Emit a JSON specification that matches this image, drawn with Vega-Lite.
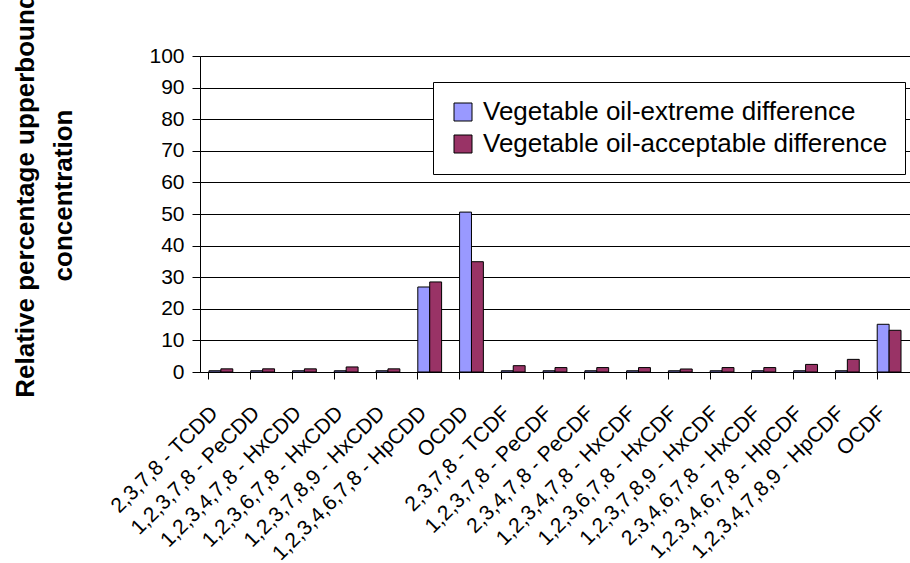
{
  "$schema": "https://vega.github.io/schema/vega-lite/v6.json",
  "autosize": "none",
  "width": 710,
  "height": 316,
  "padding": {"left": 200, "top": 56, "right": 0, "bottom": 191},
  "background": "white",
  "config": {
    "view": {"stroke": null},
    "font": "Liberation Sans"
  },
  "data": {
    "values": [
      {"compound": "2,3,7,8 - TCDD", "series": "Vegetable oil-extreme difference", "value": 0.4},
      {"compound": "2,3,7,8 - TCDD", "series": "Vegetable oil-acceptable difference", "value": 1.0},
      {"compound": "1,2,3,7,8 - PeCDD", "series": "Vegetable oil-extreme difference", "value": 0.4},
      {"compound": "1,2,3,7,8 - PeCDD", "series": "Vegetable oil-acceptable difference", "value": 1.0},
      {"compound": "1,2,3,4,7,8 - HxCDD", "series": "Vegetable oil-extreme difference", "value": 0.4},
      {"compound": "1,2,3,4,7,8 - HxCDD", "series": "Vegetable oil-acceptable difference", "value": 1.0},
      {"compound": "1,2,3,6,7,8 - HxCDD", "series": "Vegetable oil-extreme difference", "value": 0.4},
      {"compound": "1,2,3,6,7,8 - HxCDD", "series": "Vegetable oil-acceptable difference", "value": 1.6},
      {"compound": "1,2,3,7,8,9 - HxCDD", "series": "Vegetable oil-extreme difference", "value": 0.4},
      {"compound": "1,2,3,7,8,9 - HxCDD", "series": "Vegetable oil-acceptable difference", "value": 1.0},
      {"compound": "1,2,3,4,6,7,8 - HpCDD", "series": "Vegetable oil-extreme difference", "value": 26.9},
      {"compound": "1,2,3,4,6,7,8 - HpCDD", "series": "Vegetable oil-acceptable difference", "value": 28.5},
      {"compound": "OCDD", "series": "Vegetable oil-extreme difference", "value": 50.6},
      {"compound": "OCDD", "series": "Vegetable oil-acceptable difference", "value": 34.9},
      {"compound": "2,3,7,8 - TCDF", "series": "Vegetable oil-extreme difference", "value": 0.4},
      {"compound": "2,3,7,8 - TCDF", "series": "Vegetable oil-acceptable difference", "value": 2.0},
      {"compound": "1,2,3,7,8 - PeCDF", "series": "Vegetable oil-extreme difference", "value": 0.4},
      {"compound": "1,2,3,7,8 - PeCDF", "series": "Vegetable oil-acceptable difference", "value": 1.4},
      {"compound": "2,3,4,7,8 - PeCDF", "series": "Vegetable oil-extreme difference", "value": 0.4},
      {"compound": "2,3,4,7,8 - PeCDF", "series": "Vegetable oil-acceptable difference", "value": 1.4},
      {"compound": "1,2,3,4,7,8 - HxCDF", "series": "Vegetable oil-extreme difference", "value": 0.4},
      {"compound": "1,2,3,4,7,8 - HxCDF", "series": "Vegetable oil-acceptable difference", "value": 1.4},
      {"compound": "1,2,3,6,7,8 - HxCDF", "series": "Vegetable oil-extreme difference", "value": 0.4},
      {"compound": "1,2,3,6,7,8 - HxCDF", "series": "Vegetable oil-acceptable difference", "value": 0.95},
      {"compound": "1,2,3,7,8,9 - HxCDF", "series": "Vegetable oil-extreme difference", "value": 0.4},
      {"compound": "1,2,3,7,8,9 - HxCDF", "series": "Vegetable oil-acceptable difference", "value": 1.4},
      {"compound": "2,3,4,6,7,8 - HxCDF", "series": "Vegetable oil-extreme difference", "value": 0.4},
      {"compound": "2,3,4,6,7,8 - HxCDF", "series": "Vegetable oil-acceptable difference", "value": 1.4},
      {"compound": "1,2,3,4,6,7,8 - HpCDF", "series": "Vegetable oil-extreme difference", "value": 0.4},
      {"compound": "1,2,3,4,6,7,8 - HpCDF", "series": "Vegetable oil-acceptable difference", "value": 2.4},
      {"compound": "1,2,3,4,7,8,9 - HpCDF", "series": "Vegetable oil-extreme difference", "value": 0.4},
      {"compound": "1,2,3,4,7,8,9 - HpCDF", "series": "Vegetable oil-acceptable difference", "value": 4.0},
      {"compound": "OCDF", "series": "Vegetable oil-extreme difference", "value": 15.1},
      {"compound": "OCDF", "series": "Vegetable oil-acceptable difference", "value": 13.2}
    ]
  },
  "mark": {"type": "bar", "stroke": "black", "strokeWidth": 1},
  "encoding": {
    "x": {
      "field": "compound",
      "type": "nominal",
      "sort": null,
      "scale": {"paddingInner": 0.43, "paddingOuter": 0.215},
      "axis": {
        "title": null,
        "labelAngle": -45,
        "labelAlign": "right",
        "labelBaseline": "top",
        "labelFontSize": 21,
        "labelColor": "black",
        "labelPadding": 23,
        "labelOffset": -14,
        "labelLimit": 0,
        "bandPosition": 0,
        "tickSize": 7,
        "tickColor": "black",
        "domainColor": "black",
        "grid": false
      }
    },
    "xOffset": {
      "field": "series",
      "type": "nominal",
      "sort": ["Vegetable oil-extreme difference", "Vegetable oil-acceptable difference"]
    },
    "y": {
      "field": "value",
      "type": "quantitative",
      "scale": {"domain": [0, 100], "nice": false},
      "axis": {
        "title": ["Relative percentage upperbound", "concentration"],
        "titleFontSize": 26,
        "titleFontWeight": "bold",
        "titleColor": "black",
        "titleAngle": -90,
        "titleAlign": "center",
        "titleBaseline": "alphabetic",
        "titleLineHeight": 38,
        "titleX": -167,
        "titleY": 139,
        "values": [0, 10, 20, 30, 40, 50, 60, 70, 80, 90, 100],
        "labelFontSize": 21,
        "labelColor": "black",
        "labelPadding": 8,
        "tickSize": 8,
        "tickColor": "black",
        "domainColor": "black",
        "grid": true,
        "gridColor": "black",
        "gridOpacity": 1
      }
    },
    "color": {
      "field": "series",
      "type": "nominal",
      "sort": ["Vegetable oil-extreme difference", "Vegetable oil-acceptable difference"],
      "scale": {"range": ["#9999FF", "#993366"]},
      "legend": {
        "title": null,
        "orient": "none",
        "legendX": 233,
        "legendY": 26,
        "padding": 17,
        "fillColor": "white",
        "strokeColor": "black",
        "symbolType": "square",
        "symbolSize": 324,
        "symbolStrokeColor": "black",
        "symbolStrokeWidth": 1,
        "symbolOpacity": 1,
        "labelFontSize": 26,
        "labelColor": "black",
        "labelLimit": 0,
        "labelOffset": 7,
        "rowPadding": 6
      }
    }
  }
}
